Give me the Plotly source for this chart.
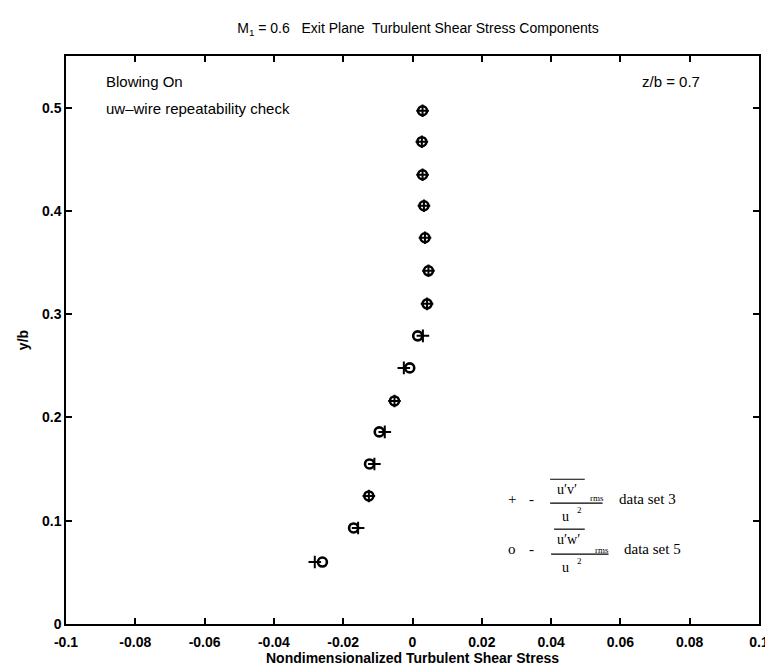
import plotly.graph_objects as go

# y/b stations
y_b = [0.497, 0.467, 0.435, 0.405, 0.374, 0.342, 0.310, 0.279,
       0.248, 0.216, 0.186, 0.155, 0.124, 0.093, 0.060]
# data set 3 (+) : u'v' component
uv_set3 = [0.0029, 0.0027, 0.0029, 0.0033, 0.0036, 0.0046, 0.0042, 0.0030,
           -0.0025, -0.0052, -0.0080, -0.0110, -0.0126, -0.0157, -0.0282]
# data set 5 (o) : u'w' component
uw_set5 = [0.0029, 0.0027, 0.0029, 0.0033, 0.0036, 0.0046, 0.0042, 0.0015,
           -0.0008, -0.0052, -0.0096, -0.0124, -0.0126, -0.0170, -0.0260]

x_ticks = [-0.1, -0.08, -0.06, -0.04, -0.02, 0, 0.02, 0.04, 0.06, 0.08, 0.1]
x_labels = ["-0.1", "-0.08", "-0.06", "-0.04", "-0.02", "0", "0.02", "0.04", "0.06", "0.08", "0.1"]
y_ticks = [0, 0.1, 0.2, 0.3, 0.4, 0.5]
y_labels = ["0", "0.1", "0.2", "0.3", "0.4", "0.5"]

fig = go.Figure()

fig.add_trace(go.Scatter(
    x=uw_set5, y=y_b, mode='markers',
    marker=dict(symbol='circle-open', size=9, color='black', line=dict(width=2.6, color='black')),
))
fig.add_trace(go.Scatter(
    x=uv_set3, y=y_b, mode='markers',
    marker=dict(symbol='cross-thin-open', size=9, color='black', line=dict(width=2, color='black')),
))

# plot area in pixels
L, R, T, B = 58, 758, 48, 617
def px(x):
    return (x - L) / (R - L)
def py(y):
    return (B - y) / (B - T)

sans = "Liberation Sans, Arial, sans-serif"
serif = "Liberation Serif, Times New Roman, serif"

ann = []
ann.append(dict(x=px(96), y=py(74), text="Blowing On", xanchor='left'))
ann.append(dict(x=px(96), y=py(101), text="uw\u2013wire repeatability check", xanchor='left'))
ann.append(dict(x=px(700), y=py(74), text="z/b = 0.7", xanchor='right'))
for a in ann:
    a.update(xref='paper', yref='paper', yanchor='middle', showarrow=False,
             font=dict(family=sans, size=15, color='black'))

# key drawn with serif text
key = [
    (508, 492, "+", 15), (528, 492, "-", 15),
    (564, 482, "u\u2032v\u2032", 14), (563, 509, "u", 14), (577, 503, "2", 9),
    (594, 491, "rms", 9), (645, 492, "data set 3", 15),
    (508, 542, "o", 15), (528, 542, "-", 15),
    (566, 532, "u\u2032w\u2032", 14), (563, 560, "u", 14), (577, 554, "2", 9),
    (599, 543, "rms", 9), (650, 542, "data set 5", 15),
]
for kx, ky, t, s in key:
    ann.append(dict(x=px(kx), y=py(ky), text=t, xref='paper', yref='paper',
                    xanchor='center', yanchor='middle', showarrow=False,
                    font=dict(family=serif, size=s, color='black')))

shapes = []
for x0, x1, yy in [(547, 582, 472), (547, 600, 496), (551, 582, 522), (548, 606, 547)]:
    shapes.append(dict(type='line', xref='paper', yref='paper',
                       x0=px(x0), x1=px(x1), y0=py(yy), y1=py(yy),
                       line=dict(color='black', width=1.2)))

fig.update_layout(
    width=773, height=667,
    margin=dict(l=L, r=773 - R, t=T, b=667 - B),
    paper_bgcolor='white', plot_bgcolor='white',
    showlegend=False,
    title=dict(text="M<sub>1</sub> = 0.6   Exit Plane  Turbulent Shear Stress Components",
               x=410 / 773, xanchor='center',
               y=1 - 20 / 667, yanchor='middle',
               font=dict(family=sans, size=14, color='black')),
    annotations=ann,
    shapes=shapes,
)

fig.update_xaxes(
    range=[-0.1, 0.1], tickvals=x_ticks, ticktext=x_labels,
    showgrid=False, zeroline=False, showline=True, linecolor='black', linewidth=1.5,
    mirror='ticks', ticks='inside', ticklen=6, tickcolor='black', tickwidth=1.5,
    ticklabelstandoff=4,
    tickfont=dict(family=sans, size=14, color='black', weight='bold'),
    title=dict(text="<b>Nondimensionalized Turbulent Shear Stress</b>", standoff=4,
               font=dict(family=sans, size=14, color='black')),
)
fig.update_yaxes(
    range=[0, 0.55], tickvals=y_ticks, ticktext=y_labels,
    showgrid=False, zeroline=False, showline=True, linecolor='black', linewidth=1.5,
    mirror='ticks', ticks='inside', ticklen=6, tickcolor='black', tickwidth=1.5,
    tickfont=dict(family=sans, size=14, color='black', weight='bold'),
    title=dict(text="<b>y/b</b>", standoff=10,
               font=dict(family=sans, size=14, color='black')),
)

fig.write_html("out.html")
